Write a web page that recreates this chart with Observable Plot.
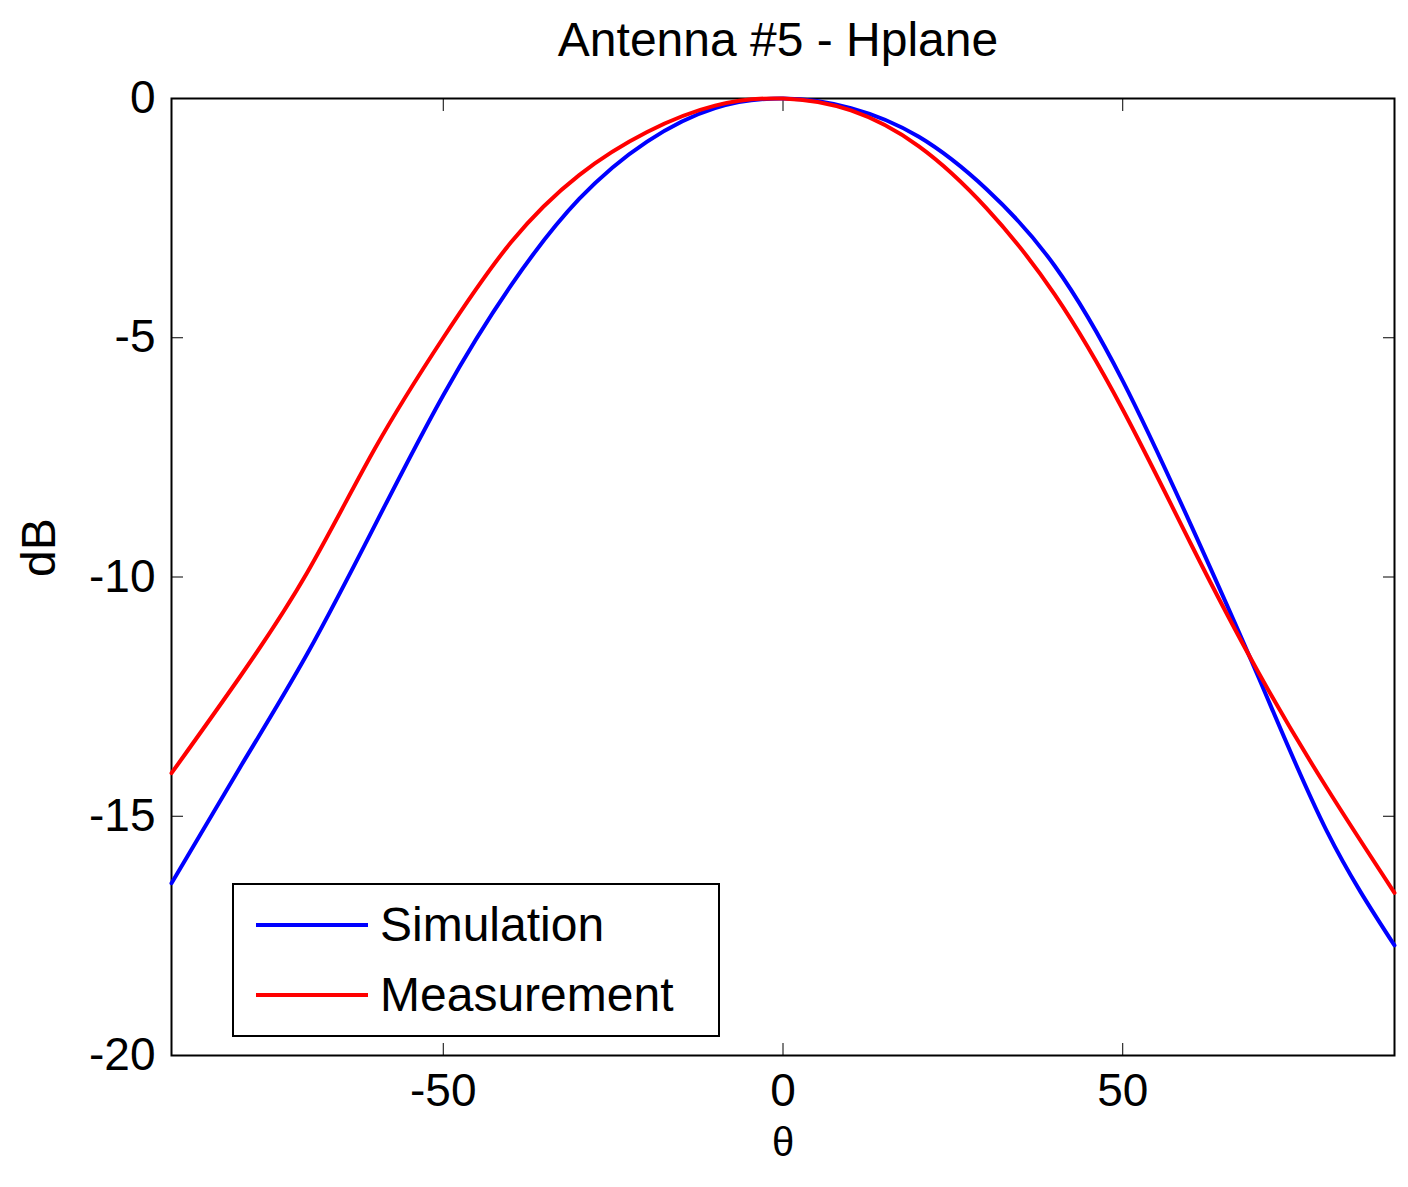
<!DOCTYPE html>
<html><head>
<script src="https://cdn.jsdelivr.net/npm/d3@7"></script>
<script src="https://cdn.jsdelivr.net/npm/@observablehq/plot@0.6"></script>
<style>
body{margin:0;background:#fff;font-family:"Liberation Sans",Arial,sans-serif;}
#wrap{position:relative;width:1408px;height:1187px;}
#title{position:absolute;left:0;width:1556px;top:12px;text-align:center;font-size:48px;}
#legend{position:absolute;left:232px;top:883px;width:484px;height:150px;border:2px solid #000;background:#fff;font-size:48px;}
.row{position:absolute;left:22px;display:flex;align-items:center;}
.sw{width:112px;height:4px;margin-right:12px;}
#chart{position:absolute;left:0;top:80px;}
</style></head><body>
<div id="wrap"><div id="title">Antenna #5 - Hplane</div><div id="chart"></div>
<div id="legend"><div class="row" style="top:12px"><div class="sw" style="background:#0000ff"></div>Simulation</div>
<div class="row" style="top:82px"><div class="sw" style="background:#ff0000"></div>Measurement</div></div></div>
<script>
const theta = [-90,-80,-70,-60,-50,-40,-30,-20,-10,0,10,20,30,40,50,60,70,80,90];
const simulation = [-16.4,-14.0,-11.6,-8.9,-6.2,-3.9,-2.1,-0.9,-0.2,0,-0.2,-0.8,-1.9,-3.5,-5.9,-8.9,-12.1,-15.3,-17.7];
const measurement = [-14.1,-12.1,-9.9,-7.3,-5.0,-3.0,-1.6,-0.7,-0.15,0,-0.25,-1.0,-2.3,-4.1,-6.5,-9.3,-12.0,-14.4,-16.6];
const xTicks = [-50,0,50];
const yTicks = [0,-5,-10,-15,-20];
const sim = theta.map((t,i)=>({t,v:simulation[i]}));
const meas = theta.map((t,i)=>({t,v:measurement[i]}));
const fs = "46px";
const blank = () => "";
const plot = Plot.plot({
  width:1408, height:1107, marginTop:18, marginBottom:132, marginLeft:171, marginRight:14,
  style:{fontFamily:"Liberation Sans, Arial, sans-serif", fontSize:fs, color:"#000"},
  x:{domain:[-90,90], label:null},
  y:{domain:[-20,0], label:null},
  marks:[
    Plot.axisX({ticks:xTicks, tickSize:-12, tickPadding:30, fontSize:fs, tickFormat:d=>String(d), label:null}),
    Plot.axisX({anchor:"top", ticks:xTicks, tickSize:-12, tickFormat:blank, label:null}),
    Plot.axisY({ticks:yTicks, tickSize:-12, tickPadding:28, fontSize:fs, tickFormat:d=>String(d), label:null}),
    Plot.axisY({anchor:"right", ticks:yTicks, tickSize:-12, tickFormat:blank, label:null}),
    Plot.frame({stroke:"#000", strokeWidth:2}),
    Plot.line(sim,{x:"t",y:"v",stroke:"#0000ff",strokeWidth:4,curve:"natural"}),
    Plot.line(meas,{x:"t",y:"v",stroke:"#ff0000",strokeWidth:4,curve:"natural"}),
    Plot.text(["θ"],{frameAnchor:"bottom",dy:100,fontSize:40}),
    Plot.text(["dB"],{frameAnchor:"left",dx:-132,rotate:-90,fontSize:48})
  ]
});
document.getElementById("chart").appendChild(plot);
</script></body></html>
